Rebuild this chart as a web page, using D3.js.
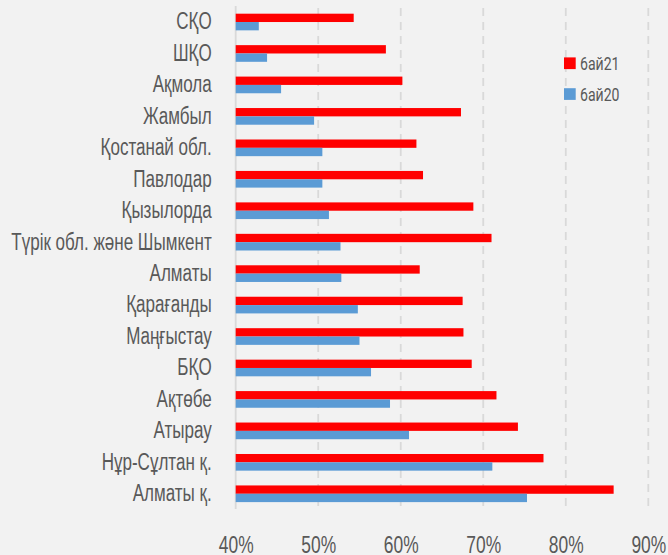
<!DOCTYPE html>
<html>
<head>
<meta charset="utf-8">
<script src="https://cdn.jsdelivr.net/npm/d3@7"></script>
<style>
  html, body { margin: 0; padding: 0; background: #f2f2f2; }
  svg { display: block; font-family: Roboto, "DejaVu Sans", sans-serif; }
</style>
</head>
<body>
<svg width="668" height="555"></svg>
<script>
// Өңірлер (жоғарыдан төмен)
const categories = [
  'СҚО', 'ШҚО', 'Ақмола', 'Жамбыл', 'Қостанай обл.', 'Павлодар', 'Қызылорда',
  'Түрік обл. және Шымкент', 'Алматы', 'Қарағанды', 'Маңғыстау', 'БҚО',
  'Ақтөбе', 'Атырау', 'Нұр-Сұлтан қ.', 'Алматы қ.'
];
const series = ['6ай21', '6ай20'];
const values21 = [54.3, 58.2, 60.2, 67.3, 61.9, 62.7, 68.8, 71.0, 62.3, 67.5, 67.6, 68.6, 71.6, 74.2, 77.3, 85.8];
const values20 = [42.8, 43.8, 45.5, 49.5, 50.5, 50.5, 51.3, 52.7, 52.8, 54.8, 55.0, 56.4, 58.7, 61.0, 71.1, 75.3];
const xTicks = [40, 50, 60, 70, 80, 90];

const svg = d3.select('svg');

const colors = { '6ай21': '#ff0000', '6ай20': '#5b9bd5' };
const textColor = '#595959';
const gridColor = '#d9d9d9';

const data = categories.map((c, i) => ({ cat: c, '6ай21': values21[i], '6ай20': values20[i] }));

// тар қаріп жоқ, сондықтан мәтінді көлденеңінен сығамыз
const squeeze = 0.74;
function condense(sel) {
  sel.each(function () {
    const w = this.getComputedTextLength();
    d3.select(this).attr('textLength', w * squeeze).attr('lengthAdjust', 'spacingAndGlyphs');
  });
}

// --- Шкалалар ---
const x = d3.scaleLinear().domain([40, 90]).range([235.7, 648.3]);
const y = d3.scaleBand().domain(categories).range([6.3, 509.5])
  .paddingInner(0.47).paddingOuter(0.235);
const ySub = d3.scaleBand().domain(series).range([0, y.bandwidth()]);

// --- Тор сызықтары ---
svg.append('g')
  .selectAll('line')
  .data(xTicks.slice(1))
  .join('line')
    .attr('x1', d => x(d)).attr('x2', d => x(d))
    .attr('y1', 8).attr('y2', 508)
    .attr('stroke', gridColor)
    .attr('stroke-width', 1.8)
    .attr('stroke-dasharray', '8,6');

// негізгі ось сызығы (40%)
svg.append('line')
  .attr('x1', x(40)).attr('x2', x(40))
  .attr('y1', 6).attr('y2', 509)
  .attr('stroke', gridColor)
  .attr('stroke-width', 1.8);

// --- Бағандар ---
svg.append('g')
  .selectAll('g')
  .data(data)
  .join('g')
    .attr('transform', d => `translate(0,${y(d.cat)})`)
  .selectAll('rect')
  .data(d => series.map(key => ({ key, value: d[key] })))
  .join('rect')
    .attr('x', x(40))
    .attr('y', d => ySub(d.key))
    .attr('width', d => x(d.value) - x(40))
    .attr('height', ySub.bandwidth())
    .attr('fill', d => colors[d.key]);

// --- Осьтер ---
const xAxis = svg.append('g')
  .attr('transform', 'translate(0,508)')
  .call(d3.axisBottom(x).tickValues(xTicks).tickSize(0).tickPadding(28).tickFormat(d => d + '%'));
xAxis.select('.domain').remove();
xAxis.selectAll('text').attr('fill', textColor).style('font-size', '23.5px').call(condense);

const yAxis = svg.append('g')
  .attr('transform', `translate(${x(40)},0)`)
  .call(d3.axisLeft(y).tickSize(0).tickPadding(24));
yAxis.select('.domain').remove();
yAxis.selectAll('text').attr('fill', textColor).style('font-size', '23px').call(condense);

// --- Аңыз ---
const legend = svg.append('g')
  .selectAll('g')
  .data(series)
  .join('g')
    .attr('transform', (d, i) => `translate(564,${63.2 + i * 30.8})`);

legend.append('rect')
  .attr('x', 0).attr('y', -5.8)
  .attr('width', 11.7).attr('height', 11.7)
  .attr('fill', d => colors[d]);

legend.append('text')
  .attr('x', 16)
  .attr('dy', '0.35em')
  .attr('fill', textColor)
  .style('font-size', '19px')
  .text(d => d)
  .call(condense);
</script>
</body>
</html>
